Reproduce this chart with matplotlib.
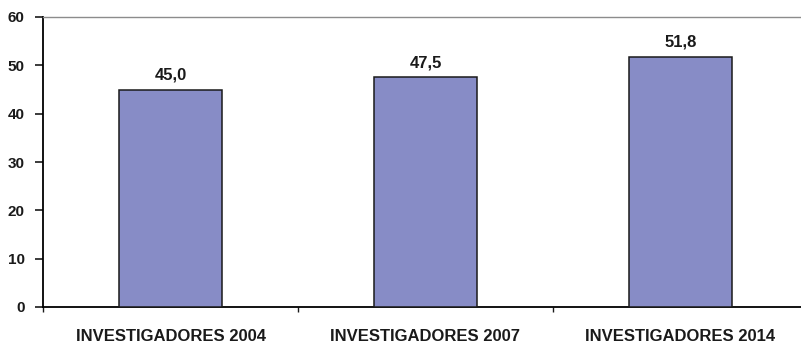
import matplotlib.pyplot as plt
import numpy as np

# researchers per category
categorias = ['INVESTIGADORES 2004', 'INVESTIGADORES 2007', 'INVESTIGADORES 2014']
valores = [45.0, 47.5, 51.8]
yticks = [0, 10, 20, 30, 40, 50, 60]

plt.rcParams['font.family'] = ['Liberation Sans', 'DejaVu Sans']
plt.rcParams['font.weight'] = 'bold'

fig = plt.figure(figsize=(8.01, 3.43), dpi=100)
ax = fig.add_axes([43 / 801, 1 - 307 / 343, 765 / 801, 290 / 343])

x = np.arange(len(categorias))
ax.bar(x, valores, width=0.404, color='#878CC6', edgecolor='#1a1a1a', linewidth=1.1, zorder=3)

for xi, v in zip(x, valores):
    ax.text(xi, v + 2.1, f'{v:.1f}'.replace('.', ','), ha='center', va='baseline',
            fontsize=12, fontweight='bold', color='#1a1a1a')

ax.set_xlim(-0.5, 2.5)
ax.set_ylim(0, 60)
ax.set_yticks(yticks)
ax.set_yticklabels([str(t) for t in yticks], fontsize=11, fontweight='bold')
ax.tick_params(axis='y', direction='out', length=5.8, width=1.2, pad=7.5, colors='#1a1a1a')

ax.set_xticks(x)
ax.set_xticklabels(categorias, fontsize=12, fontweight='bold')
ax.set_xticks([-0.5, 0.5, 1.5], minor=True)
ax.tick_params(axis='x', which='major', length=0, pad=15.5, colors='#1a1a1a')
ax.tick_params(axis='x', which='minor', direction='out', length=3.6, width=1.0, color='#1a1a1a')

ax.spines['left'].set_linewidth(1.3)
ax.spines['bottom'].set_linewidth(1.3)
ax.spines['right'].set_visible(False)
ax.spines['top'].set_color('#8c8c8c')
ax.spines['top'].set_linewidth(1.0)

fig.savefig('out.png', dpi=100)
